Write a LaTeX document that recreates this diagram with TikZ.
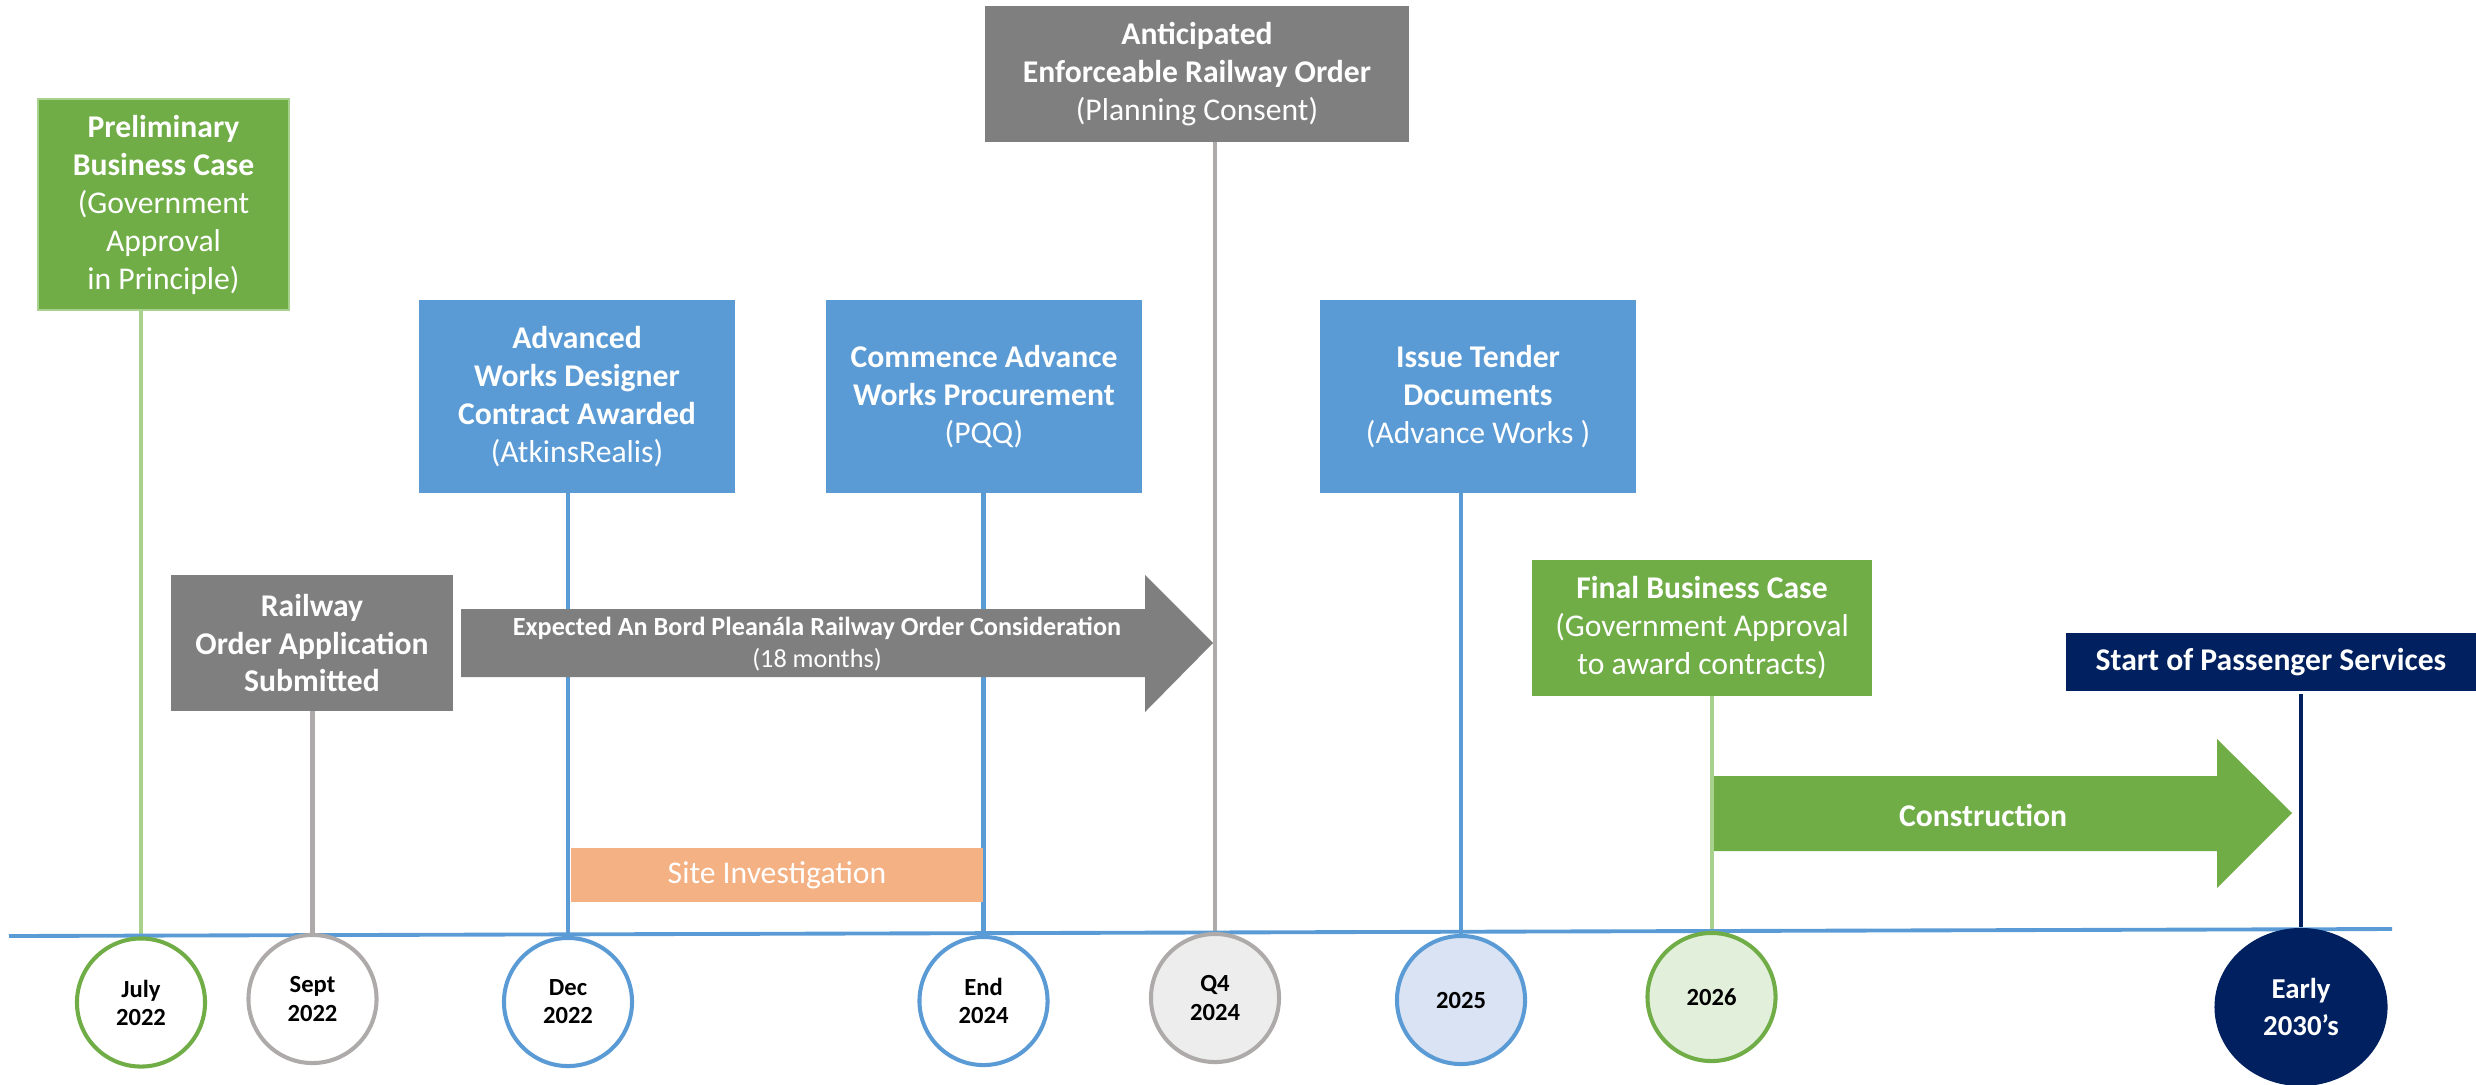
\documentclass[tikz,border=0pt]{standalone}
\usepackage{fontspec}
\setmainfont{Carlito}
\usetikzlibrary{backgrounds,shapes.geometric}
\definecolor{cgreen}{HTML}{70AD47}
\definecolor{clgreen}{HTML}{A9D18E}
\definecolor{cblue}{HTML}{5B9BD5}
\definecolor{cgray}{HTML}{7F7F7F}
\definecolor{clgray}{HTML}{AEAAAA}
\definecolor{cnavy}{HTML}{002060}
\definecolor{corange}{HTML}{F4B183}
\definecolor{cq4}{HTML}{EDEDED}
\definecolor{c25}{HTML}{DAE3F3}
\definecolor{c26}{HTML}{E2EFDA}
\tikzset{
  box/.style={inner sep=0pt, outer sep=0pt, align=center, text=white, font=\fontsize{9}{10.8}\selectfont},
  datec/.style={circle, draw, line width=1.15pt, fill=white, minimum size=1.28cm, inner sep=0pt, outer sep=0pt, align=center, font=\fontsize{7}{8}\selectfont\bfseries},
  tick/.style={line width=1.15pt},
  axisline/.style={cblue, line width=1.1pt},
}
\begin{document}
\begin{tikzpicture}[x=0.01cm,y=-0.01cm]
\useasboundingbox (0,0) rectangle (2476,1084);

% boxes
\node[box, fill=cgreen, draw=clgreen, line width=0.6pt, minimum width=2.51cm, minimum height=2.11cm] (prelim) at (163.5,204.5)
  {\textbf{Preliminary}\\\textbf{Business Case}\\(Government\\Approval\\in Principle)};
\node[box, fill=cgray, minimum width=2.82cm, minimum height=1.36cm] (rail) at (312,643)
  {\textbf{Railway}\\\textbf{Order Application}\\\textbf{Submitted}};
\node[box, fill=cblue, minimum width=3.16cm, minimum height=1.93cm] (adv) at (577,396.5)
  {\textbf{Advanced}\\\textbf{Works Designer}\\\textbf{Contract Awarded}\\(AtkinsRealis)};
\node[box, fill=cblue, minimum width=3.16cm, minimum height=1.93cm] (comm) at (984,396.5)
  {\textbf{Commence Advance}\\\textbf{Works Procurement}\\(PQQ)};
\node[box, fill=cgray, minimum width=4.24cm, minimum height=1.36cm] (ant) at (1197,74)
  {\textbf{Anticipated}\\\textbf{Enforceable Railway Order}\\(Planning Consent)};
\node[box, fill=cblue, minimum width=3.16cm, minimum height=1.93cm] (iss) at (1478,396.5)
  {\textbf{Issue Tender}\\\textbf{Documents}\\(Advance Works )};
\node[box, fill=cgreen, minimum width=3.40cm, minimum height=1.36cm] (fin) at (1702,628)
  {\textbf{Final Business Case}\\(Government Approval\\to award contracts)};
\node[box, fill=cnavy, minimum width=4.10cm, minimum height=0.58cm] (start) at (2271,662)
  {\textbf{Start of Passenger Services}};
\node[box, fill=corange, minimum width=4.12cm, minimum height=0.54cm] (site) at (777,875)
  {Site Investigation};

% arrows
\fill[cgray] (461,609) -- (1145,609) -- (1145,575) -- (1213,643) -- (1145,712) -- (1145,677) -- (461,677) -- cycle;
\node[box, font=\fontsize{7.45}{9.2}\selectfont] (bord) at (817,644)
  {\textbf{Expected An Bord Pleanála Railway Order Consideration}\\(18 months)};
\fill[cgreen] (1714,776) -- (2217,776) -- (2217,739) -- (2292,813) -- (2217,888) -- (2217,851) -- (1714,851) -- cycle;
\node[box] (constr) at (1983,815) {\textbf{Construction}};

% axis
\coordinate (axL) at (9,936);
\coordinate (axR) at (2392,929);
\draw[axisline] (axL) -- (axR);

% date circles
\node[datec, draw=cgreen] (c1) at (141,1002.5) {July\\2022};
\node[datec, draw=clgray] (c2) at (312.5,999) {Sept\\2022};
\node[datec, draw=cblue] (c3) at (568,1002) {Dec\\2022};
\node[datec, draw=cblue] (c4) at (983.5,1001) {End\\2024};
\node[datec, draw=clgray, fill=cq4] (c5) at (1215,998) {Q4\\2024};
\node[datec, draw=cblue, fill=c25] (c6) at (1461,1000) {2025};
\node[datec, draw=cgreen, fill=c26] (c7) at (1711.5,997) {2026};
\node[ellipse, fill=cnavy, minimum width=1.73cm, minimum height=1.58cm, inner sep=0pt, align=center, text=white,
  font=\fontsize{8.2}{10.3}\selectfont\bfseries] (c8) at (2301,1007) {Early\\2030’s};

% connectors (behind)
\begin{scope}[on background layer]
\draw[tick, clgreen] (prelim.south -| c1) -- (c1.north);
\draw[tick, clgray] (rail.south -| c2) -- (c2.north);
\draw[tick, cblue] (adv.south -| c3) -- (c3.north);
\draw[tick, cblue] (comm.south -| c4) -- (c4.north);
\draw[tick, clgray] (ant.south -| c5) -- (c5.north);
\draw[tick, cblue] (iss.south -| c6) -- (c6.north);
\draw[tick, clgreen] (fin.south -| c7) -- (c7.north);
\draw[tick, cnavy] ([yshift=-0.03cm]start.south -| c8) -- (c8.north);
\end{scope}
\end{tikzpicture}
\end{document}
